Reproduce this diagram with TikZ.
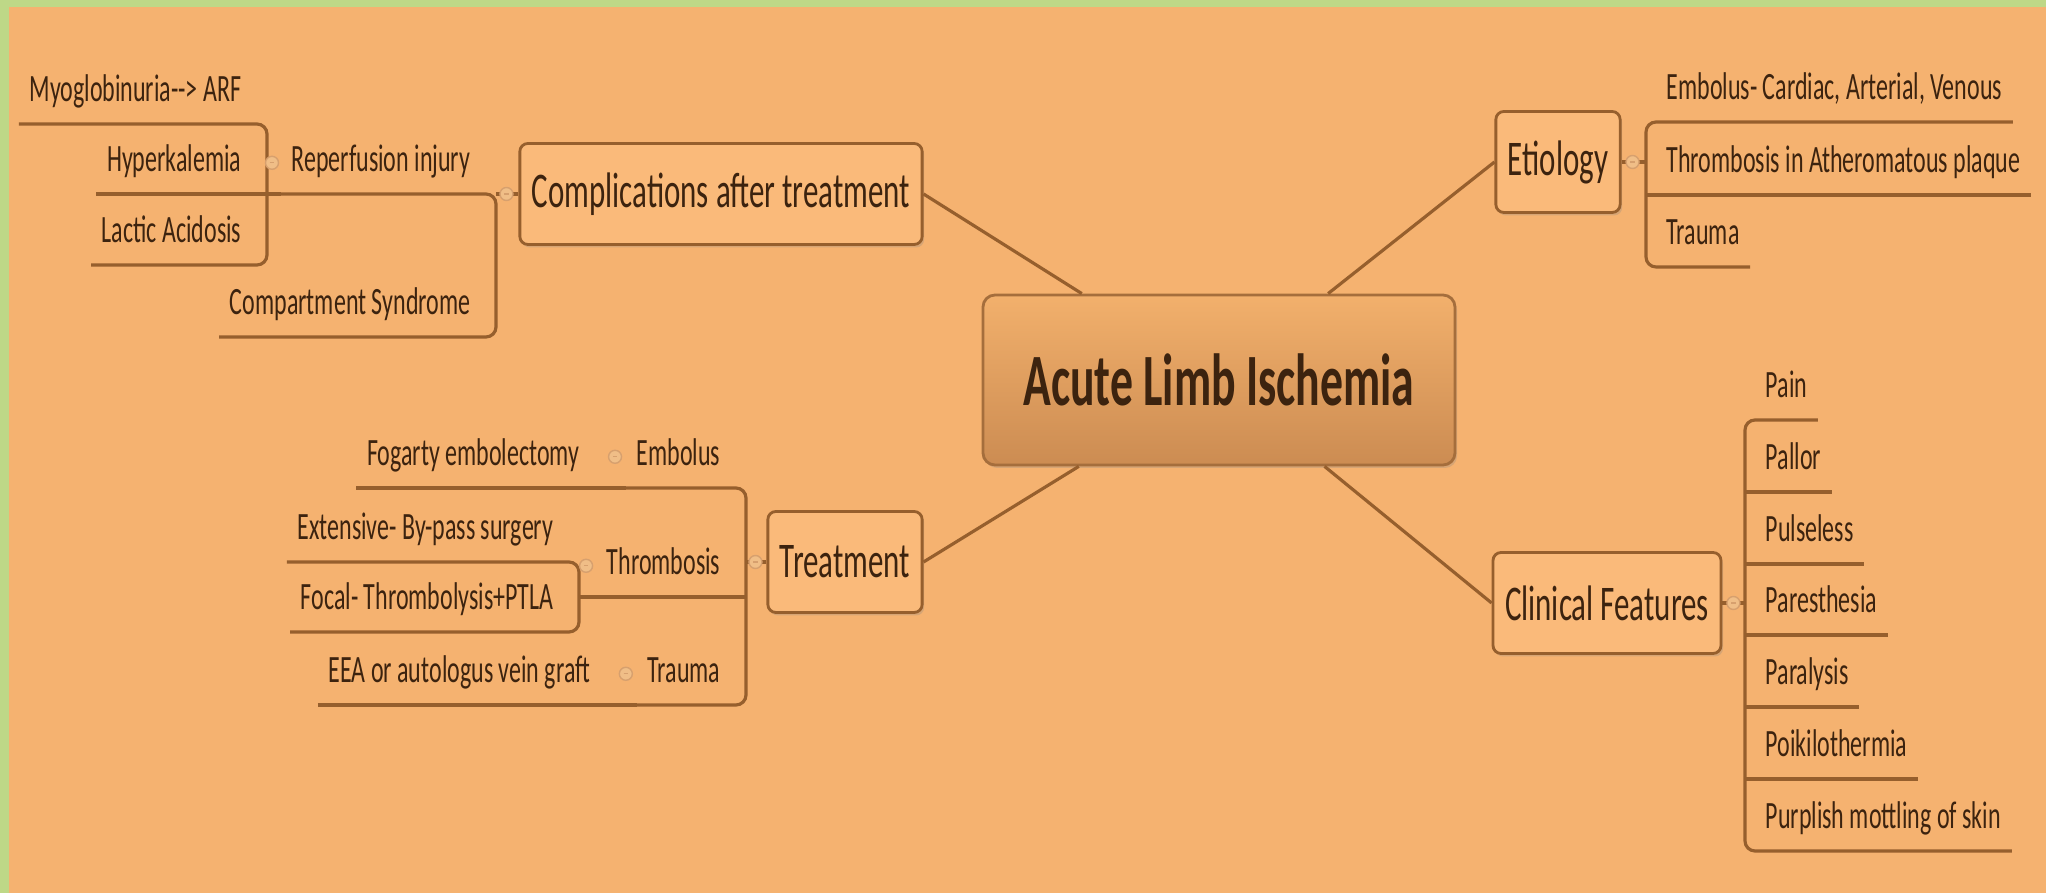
\documentclass[tikz,border=0pt]{standalone}
\usepackage{fontspec}
\setmainfont{Carlito}[FakeStretch=0.62]
\usetikzlibrary{shadows}

\definecolor{bgorange}{RGB}{245,178,112}
\definecolor{greenedge}{RGB}{190,216,135}
\definecolor{topicfill}{RGB}{250,186,122}
\definecolor{branch}{RGB}{150,95,45}
\definecolor{ink}{RGB}{60,35,15}
\definecolor{roottop}{RGB}{242,176,108}
\definecolor{rootbot}{RGB}{204,140,82}
\definecolor{rootline}{RGB}{165,110,60}
\definecolor{togline}{RGB}{215,160,110}
\definecolor{togfill}{RGB}{240,190,135}

\begin{document}
\begin{tikzpicture}[
  rootbox/.style={
    draw=rootline, line width=0.8pt,
    rounded corners=0.12cm,
    top color=roottop, bottom color=rootbot,
    minimum width=4.72cm, minimum height=1.70cm,
    font=\fontsize{21}{25}\selectfont\bfseries, text=ink,
    drop shadow={shadow xshift=0.02cm, shadow yshift=-0.03cm, opacity=0.25}
  },
  topicbox/.style={
    draw=branch, line width=0.8pt,
    rounded corners=0.08cm, fill=topicfill,
    minimum height=1.01cm, inner xsep=0.12cm,
    font=\fontsize{14.2}{17}\selectfont, text=ink,
    drop shadow={shadow xshift=0.02cm, shadow yshift=-0.03cm, opacity=0.25}
  },
  leafnode/.style={
    inner xsep=0.1cm, inner ysep=0.12cm,
    text height=0.27cm, text depth=0.1cm,
    font=\fontsize{11}{13}\selectfont, text=ink
  },
  link/.style={draw=branch, line width=0.9pt},
  bracket/.style={link, rounded corners=0.1cm},
  foldmark/.style={
    circle, draw=togline, fill=togfill,
    minimum size=0.13cm, inner sep=0pt,
    path picture={\draw[togline]
      ([xshift=1.2pt]path picture bounding box.west) --
      ([xshift=-1.2pt]path picture bounding box.east);}
  }
]
  % background
  \fill[greenedge] (0,0) rectangle (20.46,-8.93);
  \fill[bgorange] (0.09,-0.07) rectangle (20.46,-8.93);
  \useasboundingbox (0,0) rectangle (20.46,-8.93);

  \node[rootbox]  (root)  at (12.19,-3.80) {Acute Limb Ischemia};
  \node[topicbox] (compl) at (7.21,-1.94)  {Complications after treatment};
  \node[topicbox] (etio)  at (15.58,-1.62) {Etiology};
  \node[topicbox] (treat) at (8.45,-5.62)  {Treatment};
  \node[topicbox] (clin)  at (16.07,-6.03) {Clinical Features};
  \draw[link] (compl.east) -- (root);
  \draw[link] (etio.west) -- (root);
  \draw[link] (treat.east) -- (root);
  \draw[link] (clin.west) -- (root);

  % Complications after treatment
  \coordinate (complspine) at (4.96,-1.94);
  \coordinate (reperfspine) at (2.67,-1.94);
  \node[leafnode, anchor=south east] (reperf)  at (4.81,-1.94) {Reperfusion injury};
  \node[leafnode, anchor=south east] (compart) at (4.81,-3.37) {Compartment Syndrome};
  \node[leafnode, anchor=south east] (myo)     at (2.52,-1.24) {Myoglobinuria-{}-> ARF};
  \node[leafnode, anchor=south east] (hyper)   at (2.52,-1.94) {Hyperkalemia};
  \node[leafnode, anchor=south east] (lactic)  at (2.52,-2.65) {Lactic Acidosis};
  \draw[link] (compl.west) -- (complspine);
  \draw[bracket] (reperf.south west) -- (complspine) -- (complspine |- compart.south) -- (compart.south west);
  \draw[bracket] (myo.south west) -- (reperfspine |- myo.south) -- (reperfspine |- lactic.south) -- (lactic.south west);
  \draw[link] (hyper.south west) -- (reperf.south west);
  \node[foldmark] (complfold)  at ([xshift=-0.12cm]compl.west) {};
  \node[foldmark] (reperffold) at ([xshift=-0.09cm]reperf.west) {};

  % Treatment
  \coordinate (treatspine) at (7.46,-5.62);
  \coordinate (thrombspine) at (5.79,-5.97);
  \node[leafnode, anchor=south east] (emb)     at (7.31,-4.88) {Embolus};
  \node[leafnode, anchor=south east] (thromb)  at (7.31,-5.97) {Thrombosis};
  \node[leafnode, anchor=south east] (trauma)  at (7.31,-7.05) {Trauma};
  \node[leafnode, anchor=south east] (fogarty) at ([xshift=-0.36cm]emb.south west) {Fogarty embolectomy};
  \node[leafnode, anchor=south east] (eea)     at ([xshift=-0.36cm]trauma.south west) {EEA or autologus vein graft};
  \node[leafnode, anchor=south east] (ext)     at (5.64,-5.62) {Extensive- By-pass surgery};
  \node[leafnode, anchor=south east] (focal)   at (5.64,-6.32) {Focal- Thrombolysis+PTLA};
  \draw[link] (treat.west) -- (treatspine);
  \draw[bracket] (emb.south west) -- (treatspine |- emb.south) -- (treatspine |- trauma.south) -- (trauma.south west);
  \draw[link] (thrombspine) -- (treatspine |- thromb.south);
  \draw[link] (fogarty.south west) -- (emb.south west);
  \draw[link] (eea.south west) -- (trauma.south west);
  \draw[bracket] (ext.south west) -- (thrombspine |- ext.south) -- (thrombspine |- focal.south) -- (focal.south west);
  \node[foldmark] (treatfold)  at ([xshift=-0.11cm]treat.west) {};
  \node[foldmark] (embfold)    at ([xshift=-0.11cm]emb.west) {};
  \node[foldmark] (thrombfold) at ([xshift=-0.1cm]thromb.west) {};
  \node[foldmark] (traumafold) at ([xshift=-0.11cm]trauma.west) {};

  % Etiology
  \coordinate (etiospine) at (16.46,-1.62);
  \node[leafnode, anchor=south west] (etio1) at (16.56,-1.22) {Embolus- Cardiac, Arterial, Venous};
  \node[leafnode, anchor=south west] (etio2) at (16.56,-1.95) {Thrombosis in Atheromatous plaque};
  \node[leafnode, anchor=south west] (etio3) at (16.56,-2.67) {Trauma};
  \draw[link] (etio.east) -- (etiospine);
  \draw[bracket] (etio1.south east) -- (etiospine |- etio1.south) -- (etiospine |- etio3.south) -- (etio3.south east);
  \draw[link] (etiospine |- etio2.south) -- (etio2.south east);
  \node[foldmark] (etiofold) at ([xshift=0.11cm]etio.east) {};

  % Clinical Features
  \coordinate (clinspine) at (17.45,-6.03);
  \node[leafnode, anchor=south west] (pain)   at (17.55,-4.20) {Pain};
  \node[leafnode, anchor=south west] (pallor) at (17.55,-4.92) {Pallor};
  \node[leafnode, anchor=south west] (pulse)  at (17.55,-5.64) {Pulseless};
  \node[leafnode, anchor=south west] (pares)  at (17.55,-6.35) {Paresthesia};
  \node[leafnode, anchor=south west] (paral)  at (17.55,-7.07) {Paralysis};
  \node[leafnode, anchor=south west] (poik)   at (17.55,-7.79) {Poikilothermia};
  \node[leafnode, anchor=south west] (purp)   at (17.55,-8.51) {Purplish mottling of skin};
  \draw[link] (clin.east) -- (clinspine);
  \draw[bracket] (pain.south east) -- (clinspine |- pain.south) -- (clinspine |- purp.south) -- (purp.south east);
  \draw[link] (clinspine |- pallor.south) -- (pallor.south east);
  \draw[link] (clinspine |- pulse.south) -- (pulse.south east);
  \draw[link] (clinspine |- pares.south) -- (pares.south east);
  \draw[link] (clinspine |- paral.south) -- (paral.south east);
  \draw[link] (clinspine |- poik.south) -- (poik.south east);
  \node[foldmark] (clinfold) at ([xshift=0.11cm]clin.east) {};
\end{tikzpicture}
\end{document}
